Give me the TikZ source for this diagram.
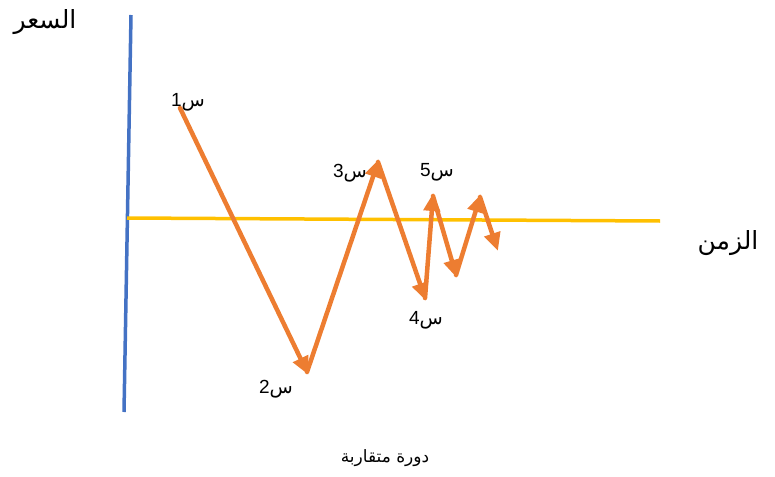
\documentclass[tikz,border=0pt]{standalone}
\usepackage{fontspec}
\TeXXeTstate=1
\newfontfamily\arabicfont[Script=Arabic]{DejaVu Sans}
\setmainfont{Liberation Sans}
\usetikzlibrary{arrows.meta}
\definecolor{axisblue}{RGB}{68,114,196}
\definecolor{levelyellow}{RGB}{255,192,0}
\definecolor{priceorange}{RGB}{237,125,49}
\tikzset{
  swing/.style={priceorange, line width=4.5pt, line cap=round,
    -{Triangle[length=18pt,width=16pt]}, shorten >=-3pt},
  ptlabel/.style={inner sep=0pt, font=\fontsize{19}{22}\selectfont},
  title/.style={inner sep=0pt, font=\fontsize{25}{28}\selectfont}
}
\newcommand{\sinlabel}[1]{#1{\arabicfont\beginR س\endR}}
\begin{document}
\begin{tikzpicture}[x=1pt, y=-1pt]
  \useasboundingbox (0,0) rectangle (775,476);
  % axes
  \coordinate (ytop) at (131,15);
  \coordinate (ybot) at (124,412);
  \coordinate (xl) at (127,218);
  \coordinate (xr) at (660,221);
  \draw[axisblue, line width=3.5pt] (ybot) -- (ytop);
  \draw[levelyellow, line width=3.5pt] (xl) -- (xr);
  % turning points of the price
  \coordinate (p1) at (180,108);
  \coordinate (p2) at (307,372);
  \coordinate (p3) at (378,162);
  \coordinate (p4) at (425,298);
  \coordinate (p5) at (433,196);
  \coordinate (p6) at (456,275);
  \coordinate (p7) at (480,197);
  \coordinate (p8) at (497,248);
  \draw[swing] (p1) -- (p2);
  \draw[swing] (p2) -- (p3);
  \draw[swing] (p3) -- (p4);
  \draw[swing] (p4) -- (p5);
  \draw[swing] (p5) -- (p6);
  \draw[swing] (p6) -- (p7);
  \draw[swing] (p7) -- (p8);
  % labels
  \node[ptlabel] (l1) at (188,102) {\sinlabel{1}};
  \node[ptlabel] (l2) at (276,389) {\sinlabel{2}};
  \node[ptlabel] (l3) at (350,173) {\sinlabel{3}};
  \node[ptlabel] (l4) at (426,320) {\sinlabel{4}};
  \node[ptlabel] (l5) at (437,172) {\sinlabel{5}};
  \node[title] (price) at (45,22) {\arabicfont\beginR السعر\endR};
  \node[title] (time) at (728,243) {\arabicfont\beginR الزمن\endR};
  \node[title, font=\fontsize{17}{20}\selectfont] (cycle) at (385,458) {\arabicfont\beginR دورة متقاربة\endR};
\end{tikzpicture}
\end{document}
